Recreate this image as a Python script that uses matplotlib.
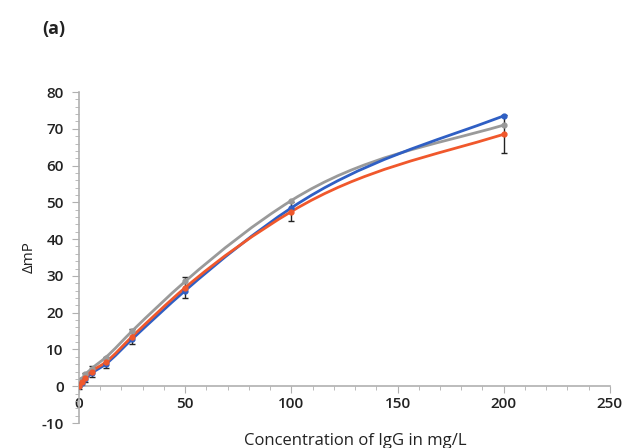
import numpy as np
import matplotlib.pyplot as plt
from matplotlib.path import Path
from matplotlib.patches import PathPatch
from matplotlib.ticker import MultipleLocator

plt.rcParams['font.family'] = ['Open Sans', 'DejaVu Sans']
plt.rcParams['axes.unicode_minus'] = False

# %% data
conc = [0, 1.5, 3, 6, 12.5, 25, 50, 100, 200]
blue = [0, 1.0, 2.0, 3.5, 6.0, 12.8, 26.0, 48.5, 73.5]
orange = [0, 1.2, 2.3, 4.0, 6.5, 13.5, 26.8, 47.5, 68.5]
gray = [0, 2.0, 3.2, 4.8, 7.8, 15.0, 28.5, 50.5, 71.0]
orange_err = [0.8, 1.0, 1.2, 1.5, 1.5, 2.0, 2.8, 2.6, 5.2]

colors = {'blue': '#2f5fc4', 'orange': '#f0582c', 'gray': '#9a9a9a'}


def smooth_path(x, y):
    # cubic bezier through the points with three-point slopes (smoothed line)
    x = np.asarray(x, float)
    y = np.asarray(y, float)
    h = np.diff(x)
    dl = np.diff(y) / h
    d = np.empty_like(x)
    d[1:-1] = (dl[:-1] * h[1:] + dl[1:] * h[:-1]) / (h[:-1] + h[1:])
    d[0] = dl[0]
    # end slope: halfway between the secant and a natural end
    d[-1] = (dl[-1] + (3 * dl[-1] - d[-2]) / 2) / 2
    verts = [(x[0], y[0])]
    codes = [Path.MOVETO]
    for i in range(len(x) - 1):
        verts += [(x[i] + h[i] / 3, y[i] + d[i] * h[i] / 3),
                  (x[i+1] - h[i] / 3, y[i+1] - d[i+1] * h[i] / 3),
                  (x[i+1], y[i+1])]
        codes += [Path.CURVE4] * 3
    return Path(verts, codes)


fig = plt.figure(figsize=(6.34, 4.48), dpi=100)
ax = fig.add_axes([0.1246, 0.0558, 0.8374, 0.7388])

ax.errorbar(conc, orange, yerr=orange_err, fmt='none', ecolor='#222222',
            elinewidth=1, capsize=2.5, zorder=2)
for ys, c in [(gray, 'gray'), (blue, 'blue'), (orange, 'orange')]:
    ax.add_patch(PathPatch(smooth_path(conc, ys), fill=False,
                           edgecolor=colors[c], lw=2.0, zorder=3))
    ax.plot(conc, ys, 'o', color=colors[c], ms=3.5, zorder=4)

ax.set_xlim(0, 250)
ax.set_ylim(-10, 80)
ax.spines['top'].set_visible(False)
ax.spines['right'].set_visible(False)
ax.spines['bottom'].set_position(('data', 0))
for s in ['left', 'bottom']:
    ax.spines[s].set_color('#b0b0b0')
    ax.spines[s].set_linewidth(1.2)
ax.xaxis.set_major_locator(MultipleLocator(50))
ax.xaxis.set_minor_locator(MultipleLocator(10))
ax.yaxis.set_major_locator(MultipleLocator(10))
ax.yaxis.set_minor_locator(MultipleLocator(2))
ax.tick_params(which='both', direction='out', color='#b0b0b0')
ax.tick_params(which='major', length=5, labelsize=11, labelcolor='#222222')
ax.tick_params(which='minor', length=3)
ax.tick_params(axis='x', pad=3)
ax.tick_params(axis='y', pad=6)
for lab in ax.get_xticklabels() + ax.get_yticklabels():
    lab.set_fontweight('semibold')
ax.set_xlabel('Concentration of IgG in mg/L', fontsize=12, color='#222222')
ax.set_ylabel('ΔmP', fontsize=11, labelpad=3, color='#222222')
ax.xaxis.set_label_coords(0.52, -0.03)

fig.text(0.066, 0.925, '(a)', fontsize=13, fontweight='bold', color='#222222')

fig.savefig('out.png', dpi=100)
